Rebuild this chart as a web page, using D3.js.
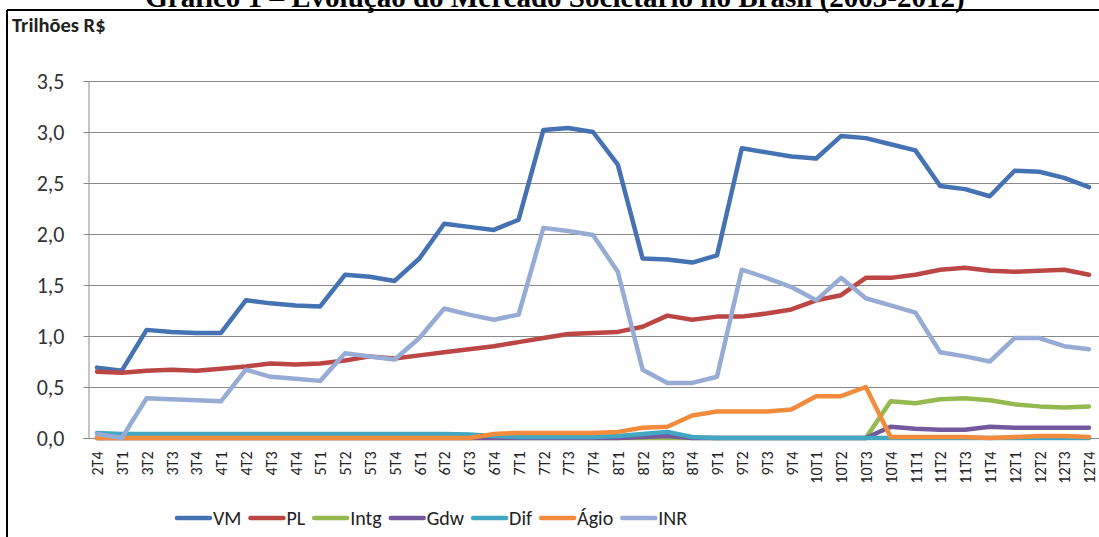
<!DOCTYPE html>
<html>
<head>
<meta charset="utf-8">
<script src="https://cdn.jsdelivr.net/npm/d3@7"></script>
<style>
  html, body { margin: 0; padding: 0; background: #fff; }
  svg { display: block; }
</style>
</head>
<body>
<svg id="chart" width="1099" height="537"></svg>
<script>
// Quarterly periods (year-quarter), 2002 Q4 to 2012 Q4
const categories = ["2T4","3T1","3T2","3T3","3T4","4T1","4T2","4T3","4T4","5T1","5T2","5T3","5T4",
  "6T1","6T2","6T3","6T4","7T1","7T2","7T3","7T4","8T1","8T2","8T3","8T4","9T1","9T2","9T3","9T4",
  "10T1","10T2","10T3","10T4","11T1","11T2","11T3","11T4","12T1","12T2","12T3","12T4"];

// Series, in trillions of R$
const VM = [0.69,0.66,1.06,1.04,1.03,1.03,1.35,1.32,1.30,1.29,1.60,1.58,1.54,1.76,2.10,2.07,2.04,2.14,3.02,3.04,3.00,
  2.68,1.76,1.75,1.72,1.79,2.84,2.80,2.76,2.74,2.96,2.94,2.88,2.82,2.47,2.44,2.37,2.62,2.61,2.55,2.46];
const PL = [0.65,0.64,0.66,0.67,0.66,0.68,0.70,0.73,0.72,0.73,0.76,0.80,0.78,0.81,0.84,0.87,0.90,0.94,0.98,1.02,1.03,
  1.04,1.09,1.20,1.16,1.19,1.19,1.22,1.26,1.35,1.40,1.57,1.57,1.60,1.65,1.67,1.64,1.63,1.64,1.65,1.60];
const Intg = [0,0,0,0,0,0,0,0,0,0,0,0,0,0,0,0,0,0,0,0,0,0,0,0,0,0,0,0,0,0,0,0,
  0.36,0.34,0.38,0.39,0.37,0.33,0.31,0.30,0.31];
const Gdw = [0,0,0,0,0,0,0,0,0,0,0,0,0,0,0,0,0,0,0,0,0,0,0.01,0.02,0,0,0,0,0,0,0,0,
  0.11,0.09,0.08,0.08,0.11,0.10,0.10,0.10,0.10];
const Dif = [0.05,0.04,0.04,0.04,0.04,0.04,0.04,0.04,0.04,0.04,0.04,0.04,0.04,0.04,0.04,0.035,0.02,0.01,0.01,0.01,0.01,
  0.02,0.04,0.06,0.01,0,0,0,0,0,0,0,0,0,0,0,0,0,0,0,0];
const Agio = [0,0,0,0,0,0,0,0,0,0,0,0,0,0,0,0,
  0.04,0.05,0.05,0.05,0.05,0.06,0.10,0.11,0.22,0.26,0.26,0.26,0.28,0.41,0.41,0.50,
  0.01,0.01,0.01,0.01,0.0,0.01,0.02,0.02,0.01];
const INR = [0.04,0.00,0.39,0.38,0.37,0.36,0.67,0.60,0.58,0.56,0.83,0.80,0.77,0.98,1.27,1.21,1.16,1.21,2.06,2.03,1.99,
  1.63,0.67,0.54,0.54,0.60,1.65,1.57,1.48,1.35,1.57,1.37,1.30,1.23,0.84,0.80,0.75,0.98,0.98,0.90,0.87];

const seriesNames = ["VM","PL","Intg","Gdw","Dif","Ágio","INR"];
const seriesValues = [VM, PL, Intg, Gdw, Dif, Agio, INR];
const seriesColors = ["#4472b3","#bc4643","#94b94f","#76589f","#42a7c2","#f28c3c","#97acd4"];
const yTicks = [0, 0.5, 1.0, 1.5, 2.0, 2.5, 3.0, 3.5];

const title = "Gráfico 1 – Evolução do Mercado Societário no Brasil (2003-2012)";
const unitLabel = "Trilhões R$";

const svg = d3.select("#chart");
const W = 1099, H = 537;
const plot = { left: 88, right: 1099, top: 81, bottom: 438 };
const uiFont = "Carlito, Lato, 'Open Sans', sans-serif";

const x = d3.scalePoint().domain(categories).range([97, 1089]);
const y = d3.scaleLinear().domain([0, 3.5]).range([plot.bottom, plot.top]);

// Frame (top and left edges of the box)
svg.append("line").attr("x1", 7).attr("x2", W).attr("y1", 10).attr("y2", 10)
  .attr("stroke", "#000").attr("stroke-width", 2);
svg.append("line").attr("x1", 7).attr("x2", 7).attr("y1", 10).attr("y2", H)
  .attr("stroke", "#000").attr("stroke-width", 2);

// Title, sitting above the frame
const titleText = svg.append("text")
  .attr("x", 555).attr("y", 7)
  .attr("text-anchor", "middle")
  .attr("font-family", "'Liberation Serif', 'Times New Roman', serif")
  .attr("font-weight", "bold")
  .attr("font-size", 24)
  .attr("fill", "#000")
  .text(title);
const tw = titleText.node().getComputedTextLength();
titleText.attr("font-size", 24 * 820 / tw);

// Unit label
svg.append("text")
  .attr("x", 12).attr("y", 32)
  .attr("font-family", uiFont).attr("font-weight", "bold")
  .attr("font-size", 20.5).attr("fill", "#222")
  .text(unitLabel);

// Gridlines
svg.append("g").selectAll("line").data(yTicks.filter(d => d > 0)).join("line")
  .attr("x1", plot.left).attr("x2", plot.right)
  .attr("y1", d => Math.round(y(d)) + 0.5).attr("y2", d => Math.round(y(d)) + 0.5)
  .attr("stroke", "#8a8a8a").attr("stroke-width", 1);

// Y axis
const yAxis = d3.axisLeft(y).tickValues(yTicks).tickSize(5).tickPadding(19)
  .tickFormat(d => d3.format(".1f")(d).replace(".", ","));
const gy = svg.append("g").attr("transform", `translate(${plot.left + 0.5},0)`).call(yAxis);
gy.select(".domain").attr("stroke", "#8a8a8a");
gy.selectAll(".tick line").attr("stroke", "#8a8a8a");
gy.selectAll(".tick text").attr("font-family", uiFont).attr("font-size", 22).attr("fill", "#333");

// X axis with vertical category labels
const xAxis = d3.axisBottom(x).tickSize(0).tickPadding(0);
const gx = svg.append("g").attr("transform", `translate(0,${plot.bottom + 0.5})`).call(xAxis);
gx.select(".domain").attr("d", `M${plot.left},0H${plot.right}`).attr("stroke", "#8a8a8a");
gx.selectAll(".tick text")
  .attr("font-family", uiFont).attr("font-size", 16).attr("fill", "#222")
  .attr("text-anchor", "end")
  .attr("dy", "0.35em")
  .attr("transform", "translate(0,13) rotate(-90)")
  .attr("x", 0).attr("y", 0);

// Series lines
const line = d3.line().x((d, i) => x(categories[i])).y(d => y(d));
svg.append("g").selectAll("path").data(seriesValues).join("path")
  .attr("d", d => line(d))
  .attr("fill", "none")
  .attr("stroke", (d, i) => seriesColors[i])
  .attr("stroke-width", 4.5)
  .attr("stroke-linejoin", "round")
  .attr("stroke-linecap", "round");

// Legend
const legend = svg.append("g").attr("transform", "translate(0,518)");
let lx = 177;
seriesNames.forEach((name, i) => {
  legend.append("line")
    .attr("x1", lx).attr("x2", lx + 33).attr("y1", 0).attr("y2", 0)
    .attr("stroke", seriesColors[i]).attr("stroke-width", 4.5).attr("stroke-linecap", "round");
  const t = legend.append("text")
    .attr("x", lx + 36).attr("y", 7)
    .attr("font-family", uiFont).attr("font-size", 20).attr("fill", "#222")
    .text(name);
  lx += 36 + t.node().getComputedTextLength() + 9;
});
</script>
</body>
</html>
